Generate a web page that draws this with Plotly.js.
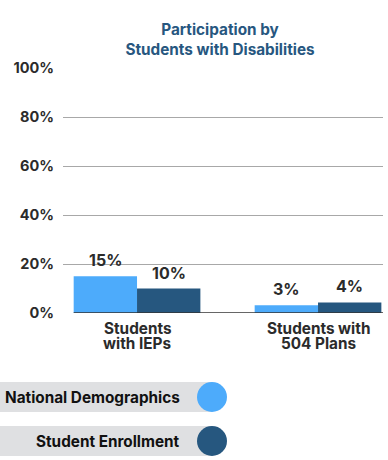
<!DOCTYPE html>
<html>
<head>
<meta charset="utf-8">
<script src="https://cdn.plot.ly/plotly-3.0.1.min.js"></script>
<style>html,body{margin:0;padding:0;background:#fff;}#chart{width:388px;height:460px;}</style>
</head>
<body>
<div id="chart"></div>
<script>
// ---- data ----
var categories = ['Students<br>with IEPs', 'Students with<br>504 Plans'];
var seriesNames = ['National Demographics', 'Student Enrollment'];
var nationalValues = [15, 3.2];
var enrollmentValues = [10, 4.3];
var valueLabels = [['15%', '3%'], ['10%', '4%']];
var yTickValues = [0, 20, 40, 60, 80, 100];
var yTickLabels = ['0%', '20%', '40%', '60%', '80%', '100%'];
var titleText = 'Participation by<br>Students with Disabilities';

// ---- styling ----
var FONT = 'Inter, sans-serif';
var colors = ['#4dabfb', '#26577f'];
var W = 388, H = 460, ML = 63, MR = 5, MT = 68, MB = 147;
var PW = W - ML - MR, PH = H - MT - MB;
function px2x(px) { return (px - ML) / PW; }
function px2y(py) { return (H - MB - py) / PH; }

var idx = categories.map(function (c, i) { return i; });
var seriesValues = [nationalValues, enrollmentValues];

var traces = seriesValues.map(function (vals, s) {
  return {
    type: 'bar', x: idx, y: vals, name: seriesNames[s],
    marker: { color: colors[s] }, hoverinfo: 'none'
  };
});

var annotations = [];
var barHalf = 0.175;
seriesValues.forEach(function (vals, s) {
  vals.forEach(function (v, i) {
    annotations.push({
      x: i + (s === 0 ? -barHalf : barHalf), y: v, xref: 'x', yref: 'y',
      text: '<b>' + valueLabels[s][i] + '</b>', showarrow: false,
      yanchor: 'middle', yshift: 16,
      font: { family: FONT, size: 16, color: '#2b2b2b' }
    });
  });
});
// category labels (two lines, tight spacing)
categories.forEach(function (c, i) {
  var lines = c.split('<br>');
  lines.forEach(function (ln, k) {
    annotations.push({
      x: i, y: px2y(328.5 + k * 14.5), xref: 'x', yref: 'paper',
      text: '<b>' + ln + '</b>', showarrow: false, yanchor: 'middle',
      font: { family: FONT, size: 15.3, color: '#2b2b2b' }
    });
  });
});
// custom legend
var shapes = [];
var legendRows = [397, 441];
seriesNames.forEach(function (n, s) {
  var cy = legendRows[s];
  shapes.push({ type: 'rect', xref: 'paper', yref: 'paper',
    x0: px2x(0), x1: px2x(212), y0: px2y(cy - 15), y1: px2y(cy + 15),
    fillcolor: '#dfe0e2', line: { width: 0 }, layer: 'below' });
  shapes.push({ type: 'circle', xref: 'paper', yref: 'paper',
    x0: px2x(197), x1: px2x(227), y0: px2y(cy - 15), y1: px2y(cy + 15),
    fillcolor: colors[s], line: { width: 0 } });
  annotations.push({ xref: 'paper', yref: 'paper', x: px2x(182), y: px2y(cy),
    xanchor: 'right', yanchor: 'middle', showarrow: false,
    text: '<b>' + n + '</b>', font: { family: FONT, size: 15.3, color: '#111111' } });
});
// dark baseline under bars
shapes.push({ type: 'line', xref: 'x', yref: 'y', x0: -0.35, x1: 1.36, y0: 0, y1: 0,
  line: { color: '#333333', width: 1.5 } });

var layout = {
  width: W, height: H,
  margin: { l: ML, r: MR, t: MT, b: MB, pad: 0 },
  paper_bgcolor: '#ffffff', plot_bgcolor: '#ffffff',
  showlegend: false,
  barmode: 'group', bargap: 0.3, bargroupgap: 0,
  title: { text: '<b>' + titleText + '</b>', x: 220 / W, xanchor: 'center',
    y: 1 - 35 / H, yanchor: 'middle',
    font: { family: FONT, size: 15.3, color: '#27577f' } },
  xaxis: { range: [-0.409, 1.359], showticklabels: false, showgrid: false,
    zeroline: false, showline: false, ticks: '', fixedrange: true },
  yaxis: { range: [0, 100], tickvals: yTickValues, ticktext: yTickLabels.map(function (t) { return '<b>' + t + '</b>'; }),
    showgrid: true, gridcolor: '#a8a8a8', gridwidth: 1, zeroline: false,
    showline: false, ticks: '', ticklabelstandoff: 8,
    tickfont: { family: FONT, size: 14.5, color: '#2b2b2b' }, fixedrange: true },
  annotations: annotations,
  shapes: shapes
};

Plotly.newPlot('chart', traces, layout, { displayModeBar: false, staticPlot: true });
</script>
</body>
</html>
